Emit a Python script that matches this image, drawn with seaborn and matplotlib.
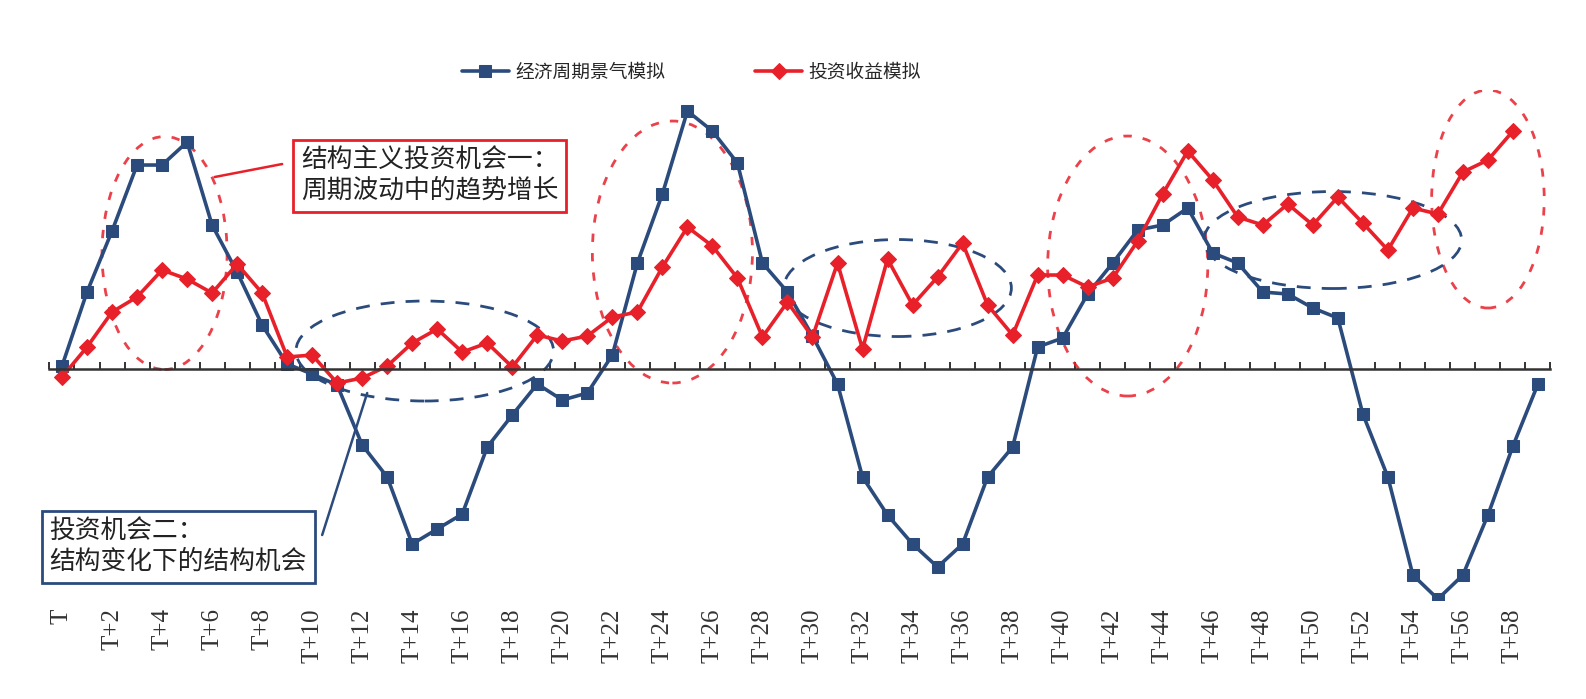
import numpy as np
import pandas as pd
import matplotlib
matplotlib.use('Agg')
import matplotlib.pyplot as plt
from matplotlib.patches import Ellipse
import seaborn as sns

# Data (arbitrary units, 0 = axis line)
cycle = [0.3, 7.7, 13.8, 20.4, 20.4, 22.7, 14.4, 9.7, 4.4, 0.5,
         -0.5, -1.6, -7.6, -10.8, -17.5, -16.0, -14.5, -7.8, -4.6, -1.5,
         -3.1, -2.4, 1.4, 10.6, 17.5, 25.8, 23.8, 20.6, 10.6, 7.7,
         3.3, -1.5, -10.8, -14.6, -17.5, -19.8, -17.5, -10.8, -7.8, 2.2,
         3.1, 7.5, 10.6, 13.9, 14.4, 16.1, 11.6, 10.6, 7.7, 7.5,
         6.1, 5.1, -4.5, -10.8, -20.6, -23.0, -20.6, -14.6, -7.7, -1.5]
returns = [-0.8, 2.2, 5.7, 7.2, 9.9, 9.0, 7.6, 10.5, 7.6, 1.2,
           1.4, -1.4, -0.9, 0.3, 2.6, 4.0, 1.7, 2.6, 0.2, 3.4,
           2.8, 3.3, 5.2, 5.7, 10.2, 14.2, 12.3, 9.1, 3.2, 6.7,
           3.2, 10.6, 2.0, 11.0, 6.4, 9.2, 12.6, 6.4, 3.4, 9.4,
           9.4, 8.2, 9.1, 12.8, 17.5, 21.8, 18.9, 15.2, 14.4, 16.5,
           14.4, 17.2, 14.6, 11.9, 16.1, 15.5, 19.7, 20.9, 23.8]
periods = np.arange(len(cycle))
tick_pos = np.arange(0, 59, 2)
tick_labels = ['T'] + [f'T+{i}' for i in tick_pos[1:]]

df_cycle = pd.DataFrame({'t': periods, 'v': cycle})
df_ret = pd.DataFrame({'t': periods[:len(returns)], 'v': returns})

BLUE = '#2b4b7c'
RED = '#e8202a'

sns.set_style('white')
plt.rcParams['font.family'] = ['Noto Sans CJK SC', 'DejaVu Sans']

fig = plt.figure(figsize=(15.86, 6.99), dpi=100)
ax = fig.add_axes([0.0312, 0.1416, 0.9464, 0.7296])

sns.lineplot(data=df_cycle, x='t', y='v', ax=ax, color=BLUE, lw=2.6,
             marker='s', markersize=8, markeredgecolor=BLUE,
             label='经济周期景气模拟')
sns.lineplot(data=df_ret, x='t', y='v', ax=ax, color=RED, lw=2.6,
             marker='D', markersize=8.5, markeredgecolor=RED,
             label='投资收益模拟')

ax.set_xlim(-0.5, 59.5)
ax.set_ylim(-23.1, 27.9)
ax.set_xlabel('')
ax.set_ylabel('')
ax.set_yticks([])

# axis line through zero with small inward ticks between periods
for s in ['top', 'right', 'left']:
    ax.spines[s].set_visible(False)
ax.spines['bottom'].set_position(('data', 0))
ax.spines['bottom'].set_color('#333333')
ax.spines['bottom'].set_linewidth(1.8)
ax.set_xticks(np.arange(-0.5, 60, 1))
ax.tick_params(axis='x', bottom=True, direction='in', length=5, width=1.4,
               color='#333333', labelbottom=False)

# period labels at the bottom of the plot area
sec = ax.secondary_xaxis('bottom')
sec.set_xticks(tick_pos)
sec.set_xticklabels(tick_labels, rotation=90, fontsize=18,
                    family='Liberation Serif', color='#333333')
sec.tick_params(length=0, pad=6)
sec.spines['bottom'].set_visible(False)

# highlight ellipses
for cx, cy, w, h in [(4.1, 11.6, 5.0, 23.3), (24.4, 11.7, 6.4, 26.2),
                     (42.6, 10.3, 6.4, 26.0), (57.0, 17.0, 4.5, 21.8)]:
    ax.add_patch(Ellipse((cx, cy), w, h, fill=False, ec=RED, lw=2,
                         ls=(0, (3, 4)), alpha=0.85))
for cx, cy, w, h in [(14.5, 1.8, 10.3, 10.0), (33.4, 8.1, 9.1, 9.7),
                     (50.8, 12.9, 10.3, 9.7)]:
    ax.add_patch(Ellipse((cx, cy), w, h, fill=False, ec=BLUE, lw=2,
                         ls=(0, (5, 4))))

# callout boxes
ax.text(9.55, 19.3, '结构主义投资机会一：\n周期波动中的趋势增长', fontsize=18.5,
        va='center', ha='left', color='#222222', linespacing=1.2,
        bbox=dict(boxstyle='square,pad=0.3', fc='white', ec=RED, lw=2))
ax.plot([8.8, 6.1], [20.5, 19.2], color=RED, lw=1.8)
ax.text(-0.5, -17.8, '投资机会二：\n结构变化下的结构机会', fontsize=18.5,
        va='center', ha='left', color='#222222', linespacing=1.2,
        bbox=dict(boxstyle='square,pad=0.3', fc='white', ec=BLUE, lw=2))
ax.plot([10.4, 12.2], [-16.6, -2.4], color=BLUE, lw=1.8)

ax.legend(loc='center', bbox_to_anchor=(0.436, 0.897),
          bbox_transform=fig.transFigure, ncol=2, frameon=False,
          fontsize=13.5, handlelength=2.5, handletextpad=0.35,
          columnspacing=4.8)

fig.savefig('out.png', dpi=100)
